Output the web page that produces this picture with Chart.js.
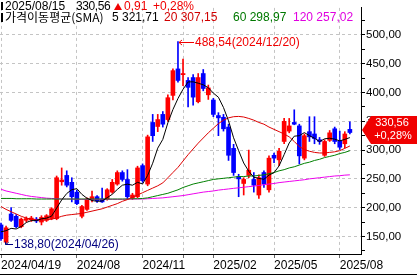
<!DOCTYPE html>
<html>
<head>
<meta charset="utf-8">
<script src="https://cdn.jsdelivr.net/npm/chart.js@4/dist/chart.umd.min.js"></script>
<style>
  body { margin: 0; background: #fff; }
  #wrap { position: relative; width: 417px; height: 275px; overflow: hidden; }
  .t { position: absolute; font: 12px "Liberation Sans", Arial, "Noto Sans CJK KR", sans-serif; line-height: 12px; white-space: pre; }
  .kr { font-family: "Noto Sans CJK KR", "Liberation Sans", sans-serif; }
  .bar { position: absolute; left: 1px; width: 2px; background: #000; }
  .tri { position: absolute; width: 0; height: 0; border-left: 4px solid transparent; border-right: 4px solid transparent; border-bottom: 7px solid #f00000; }
</style>
</head>
<body>
<div id="wrap">
  <canvas id="c" width="417" height="275"></canvas>
  <div class="bar" style="top:2px;height:8px"></div>
  <span class="t" style="left:5px;top:0">2025/08/15</span>
  <span class="t" style="left:76px;top:0;letter-spacing:-0.4px">330,56</span>
  <div class="tri" style="left:114px;top:3px"></div>
  <span class="t" style="left:124px;top:0;color:#f00000">0,91</span>
  <span class="t" style="left:153px;top:0;color:#f00000">+0,28%</span>
  <div class="bar" style="top:13px;height:9px"></div>
  <span class="t kr" style="left:5px;top:11px">가격이동평균(SMA)</span>
  <span class="t" style="left:112px;top:11px">5 321,71</span>
  <span class="t" style="left:164px;top:11px;color:#d00000">20 307,15</span>
  <span class="t" style="left:233px;top:11px;color:#007800">60 298,97</span>
  <span class="t" style="left:293px;top:11px;color:#e000e0">120 257,02</span>
</div>
<script>
// weekly candles, 2024/04/19 .. 2025/08/15
const opens = [170, 140, 189, 185, 167, 178, 179, 180, 175, 178,
  181, 181, 245, 256, 244, 227, 185, 197, 214, 219,
  215, 215, 227, 241, 261, 249, 217, 219, 273, 241,
  348, 341, 362, 353, 395, 441, 431, 421, 426, 384,
  433, 396, 387, 360, 357, 340, 303, 254, 242, 256,
  249, 222, 261, 231, 291, 283, 315, 333, 348, 342,
  286, 332, 328, 318, 291, 317, 337, 316, 311, 336];
const highs = [173, 168, 200, 188, 182, 184, 185, 183, 186, 188,
  200, 255, 269, 264, 252, 230, 204, 217, 229, 221,
  234, 233, 249, 264, 264, 266, 225, 272, 276, 326,
  362, 362, 367, 396, 441, 488.54, 458, 426, 431, 433,
  440, 413, 390, 365, 362, 345, 310, 258, 252, 300,
  261, 257, 264, 290, 295, 303, 355, 355, 370, 345,
  328, 358, 358, 322, 318, 334, 340, 333, 332, 349];
const lows = [143, 138.8, 176, 165, 165, 175, 176, 174, 170, 176,
  179, 179, 239, 236, 210, 205, 182, 195, 210, 209,
  209, 213, 225, 239, 246, 215, 214, 217, 244, 238,
  315, 332, 340, 350, 387, 418, 412, 375, 378, 382,
  403, 388, 358, 325, 333, 282, 256, 219, 222, 252,
  227, 216, 235, 227, 278, 273, 311, 330, 344, 276,
  283, 315, 311, 310, 289, 315, 311, 301, 304, 328];
const closes = [146, 165, 178, 167, 180, 181, 182, 177, 183, 186,
  198, 252, 248, 239, 219, 207, 202, 215, 219, 212,
  210, 231, 244, 261, 249, 219, 222, 269, 247, 323,
  325, 353, 345, 391, 438, 421, 433, 409, 392, 426,
  407, 408, 362, 356, 337, 291, 261, 250, 249, 265,
  239, 252, 241, 286, 286, 298, 350, 342, 345, 290,
  325, 323, 320, 315, 315, 330, 315, 305, 328, 330.56];

const ma5 = [158, 160, 164, 163, 167.2, 174.2, 177.6, 177.4, 180.6, 181.8,
  185.2, 199.2, 213.4, 224.6, 231.2, 233, 223, 216.4, 212.4, 211,
  211.6, 217.4, 223.2, 231.6, 239, 240.8, 239, 244, 241.2, 256,
  277.2, 303.4, 318.6, 347.4, 370.4, 389.6, 405.6, 418.4, 418.6, 416.2,
  413.4, 408.4, 399, 391.8, 374, 350.8, 321.4, 299, 277.6, 263.2,
  252.8, 251, 249.2, 256.6, 260.8, 272.6, 292.2, 312.4, 324.2, 325,
  330.4, 325, 320.6, 314.6, 319.6, 320.6, 319, 316, 318.6, 321.71];
const ma20 = [202, 197, 193, 189, 185, 182, 180, 179, 178, 179,
  180, 182, 185, 187, 188, 189, 190, 192, 194, 196,
  198, 201, 204, 207, 211, 214, 218, 222, 226, 230,
  234, 238, 243, 252, 261, 270, 281, 292, 302, 312,
  321, 330, 338, 346, 352, 356, 358, 358.5, 357.5, 355,
  352, 348, 345, 340, 336, 332, 328, 323, 315, 306,
  301, 298, 296, 295, 295, 296, 297, 299, 303, 307.15];
const ma60 = [216, 216, 216, 215.5, 215.5, 215.5, 215.5, 215, 215, 215,
  215, 215, 215, 215, 215, 215, 215, 215, 215, 215,
  215, 215, 215, 215, 215, 215, 215.5, 215.5, 216, 217,
  219, 221, 223, 225, 228, 231, 235, 238, 241, 243,
  245, 247, 249, 250, 251, 252, 253, 254, 254, 255,
  255, 256, 257, 259, 261, 264, 266, 269, 271, 274,
  277, 279, 282, 284, 287, 289, 291, 294, 296, 298.97];
const ma120 = [232, 229, 227, 225, 223, 221, 219.5, 218.5, 217.5, 216.5,
  216, 215.5, 215, 215, 215, 214.5, 214.5, 214.5, 214.5, 214.5,
  214.5, 214.5, 214.5, 214.5, 214.5, 215, 215, 215, 215, 215.5,
  216, 216.5, 217, 218, 219, 220, 221, 222.5, 224, 225.5,
  227, 228, 229, 230.5, 231.5, 232.5, 233.5, 234.5, 235.5, 236.5,
  237.5, 238.5, 240, 241, 242, 243.5, 244.5, 245.5, 246.5, 247.5,
  248.5, 250, 251, 252, 253, 254, 255, 255.5, 256.5, 257.02];

// x axis: week index of each labelled tick
const tickIndex = [0, 15, 28, 36, 42, 54, 67];
const tickText = ["2024/04/19", "2024/08", "2024/11", "", "2025/02", "2025/05", "2025/08"];
const yTicks = [125, 150, 175, 200, 225, 250, 275, 300, 325, 350, 375, 400, 425, 450, 475, 500, 525];

const UP = "#ff0000";
const DOWN = "#0000ff";
const colors = opens.map((o, i) => (closes[i] >= o ? UP : DOWN));
const axisFamily = '"Liberation Sans", Arial, sans-serif';
const noteFont = '12px "Liberation Sans", Arial, sans-serif';

function fmt(v) {
  return v.toFixed(2).replace(".", ",");
}
function weekDate(i) {
  const d = new Date(2024, 3, 19 + 7 * i);
  const mm = String(d.getMonth() + 1).padStart(2, "0");
  const dd = String(d.getDate()).padStart(2, "0");
  return d.getFullYear() + "/" + mm + "/" + dd;
}
function xy(arr) {
  return arr.map((v, i) => ({ x: i, y: v }));
}

const overlay = {
  id: "overlay",
  afterDraw(chart) {
    const { ctx, chartArea } = chart;
    const xs = chart.scales.x;
    const ys = chart.scales.y;
    ctx.save();
    ctx.fillStyle = "#000";
    ctx.fillRect(0, 274, 417, 1);

    // highest high
    const hi = highs.indexOf(Math.max(...highs));
    let px = Math.round(xs.getPixelForValue(hi));
    let py = Math.round(ys.getPixelForValue(highs[hi])) + 0.5;
    ctx.strokeStyle = "#f00000";
    ctx.lineWidth = 1;
    ctx.beginPath();
    ctx.moveTo(px + 1, py); ctx.lineTo(px + 16, py);
    ctx.moveTo(px + 1, py); ctx.lineTo(px + 4, py - 2.5);
    ctx.moveTo(px + 1, py); ctx.lineTo(px + 4, py + 2.5);
    ctx.stroke();
    ctx.font = noteFont;
    ctx.fillStyle = "#f00000";
    ctx.textBaseline = "middle";
    ctx.textAlign = "left";
    ctx.fillText(fmt(highs[hi]) + "(" + weekDate(hi) + ")", px + 17, py + 0.5);

    // lowest low
    const lo = lows.indexOf(Math.min(...lows));
    px = Math.round(xs.getPixelForValue(lo));
    py = Math.round(ys.getPixelForValue(lows[lo])) + 1.5;
    ctx.strokeStyle = "#000080";
    ctx.beginPath();
    ctx.moveTo(px - 0.5, py - 3); ctx.lineTo(px - 0.5, py);
    ctx.lineTo(px + 7, py);
    ctx.moveTo(px - 0.5, py); ctx.lineTo(px + 2.5, py - 2);
    ctx.stroke();
    ctx.fillStyle = "#000080";
    ctx.fillText(fmt(lows[lo]) + "(" + weekDate(lo) + ")", px + 8, py + 0.5);

    // last price tag
    const last = closes.length - 1;
    const ty = Math.round(ys.getPixelForValue(closes[last]));
    const tx = chartArea.right + 1;
    ctx.fillStyle = "#f00000";
    ctx.beginPath();
    ctx.moveTo(tx, ty - 2);
    ctx.lineTo(tx + 9, ty - 16);
    ctx.lineTo(417, ty - 16);
    ctx.lineTo(417, ty + 12);
    ctx.lineTo(tx + 9, ty + 12);
    ctx.closePath();
    ctx.fill();
    ctx.fillStyle = "#fff";
    ctx.font = '11px "Liberation Sans", Arial, sans-serif';
    ctx.textAlign = "center";
    ctx.fillText(fmt(closes[last]), 392, ty - 9);
    ctx.fillText("+0,28%", 393, ty + 4);
    ctx.restore();
  },
};

new Chart(document.getElementById("c"), {
  type: "bar",
  data: {
    datasets: [
      { type: "line", label: "MA5", data: xy(ma5), borderColor: "#000", borderWidth: 1, pointRadius: 0, order: 0 },
      { type: "line", label: "MA20", data: xy(ma20), borderColor: "#dd0000", borderWidth: 1, pointRadius: 0, order: 0 },
      { type: "line", label: "MA60", data: xy(ma60), borderColor: "#008000", borderWidth: 1, pointRadius: 0, order: 0 },
      { type: "line", label: "MA120", data: xy(ma120), borderColor: "#ee00ee", borderWidth: 1, pointRadius: 0, order: 0 },
      {
        label: "body",
        data: opens.map((o, i) => ({ x: i, y: [o, closes[i]] })),
        backgroundColor: colors,
        barThickness: 4,
        minBarLength: 1,
        grouped: false,
        order: 1,
      },
      {
        label: "wick",
        data: lows.map((l, i) => ({ x: i, y: [l, highs[i]] })),
        backgroundColor: colors,
        barThickness: 1,
        grouped: false,
        order: 2,
      },
    ],
  },
  options: {
    responsive: false,
    animation: false,
    layout: { padding: 0 },
    plugins: { legend: { display: false }, tooltip: { enabled: false } },
    scales: {
      x: {
        type: "linear",
        min: -0.2,
        max: 71.2,
        offset: false,
        afterBuildTicks: (s) => { s.ticks = tickIndex.map((v) => ({ value: v })); },
        afterFit: (s) => { s.height = 21; },
        grid: { offset: false, color: "#c4c4c4", tickColor: "#666", tickLength: 4, tickBorderDash: [] },
        border: { color: "#000", dash: [3, 3] },
        ticks: {
          autoSkip: false,
          maxRotation: 0,
          align: "start",
          padding: 0,
          color: "#000",
          font: { family: axisFamily, size: 12 },
          callback: (v) => tickText[tickIndex.indexOf(v)],
        },
      },
      y: {
        position: "right",
        min: 119.5,
        max: 547,
        afterBuildTicks: (s) => { s.ticks = yTicks.map((v) => ({ value: v })); },
        afterFit: (s) => { s.width = 56; },
        grid: {
          color: (c) => (c.tick && c.tick.value % 50 === 0 ? "#c4c4c4" : "rgba(0,0,0,0)"),
          tickColor: "#000",
          tickLength: 4,
          tickBorderDash: [],
        },
        border: { color: "#000", dash: [3, 3] },
        ticks: {
          autoSkip: false,
          padding: 1,
          color: "#000",
          font: { family: axisFamily, size: 11.5 },
          callback: (v) => (v % 50 === 0 ? fmt(v) : ""),
        },
      },
    },
  },
  plugins: [overlay],
});
</script>
</body>
</html>
